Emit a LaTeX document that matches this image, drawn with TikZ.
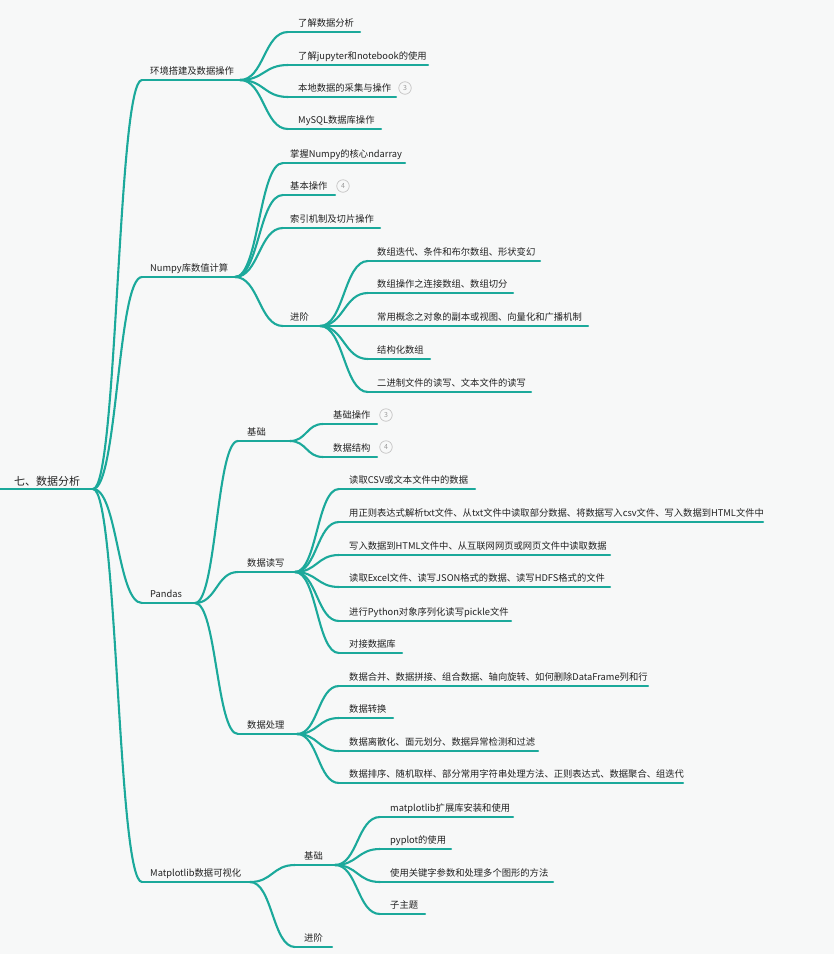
\documentclass[tikz,border=0pt]{standalone}
\usepackage{fontspec}
\setmainfont{Noto Sans CJK SC}
\usetikzlibrary{calc}
\definecolor{teal}{HTML}{1BA99B}
\definecolor{bg}{HTML}{F7F8F8}
\definecolor{txt}{HTML}{222222}
\definecolor{badgec}{HTML}{C4C4C4}
\definecolor{badget}{HTML}{9A9A9A}
\tikzset{
  branch/.style={draw=teal, line width=2.1pt, line cap=round},
  lbl/.style={inner sep=0pt, text=txt, font=\fontsize{9.3}{10}\selectfont},
  rootlbl/.style={inner sep=0pt, text=txt, font=\fontsize{11}{12}\selectfont},
  badge/.style={circle, draw=badgec, line width=0.7pt, minimum size=12.5pt, inner sep=0pt, text=badget, font=\fontsize{7}{8}\selectfont},
}
\newcommand{\topic}[6]{%
  \coordinate (#1-s) at (#3,#5);
  \coordinate (#1-e) at (#4,#5);
  \draw[branch] (#1-s) -- (#1-e);
  \node[lbl, anchor=base west] (#1) at (#2,#5-5.5) {#6};
}
\newcommand{\conn}[2]{%
  \draw[branch] let \p1=(#1-e), \p2=(#2-s) in
    (\p1) .. controls ({0.5*\x1+0.5*\x2},\y1) and ({0.5*\x1+0.5*\x2},\y2) .. (\p2);
}
\begin{document}
\begin{tikzpicture}[x=1pt,y=-1pt]
\fill[bg] (0,0) rectangle (834,954);
\useasboundingbox (0,0) rectangle (834,954);
% root
\coordinate (R-s) at (0,489);
\coordinate (R-e) at (93,489);
\draw[branch] (R-s) -- (R-e);
\node[rootlbl, anchor=base west] (R) at (14,485) {七、数据分析};
% level 1
\topic{A}{150}{142}{240}{80}{环境搭建及数据操作}
\topic{B}{150}{142}{235}{277}{Numpy库数值计算}
\topic{C}{150}{142}{195}{603}{Pandas}
\topic{D}{150}{142}{250}{882}{Matplotlib数据可视化}
\foreach \c in {A,B,C,D} {\conn{R}{\c}}
% A
\topic{A1}{298}{288}{360}{32}{了解数据分析}
\topic{A2}{298}{288}{428}{65}{了解jupyter和notebook的使用}
\topic{A3}{298}{288}{396}{97}{本地数据的采集与操作}
\topic{A4}{298}{288}{381}{129}{MySQL数据库操作}
\node[badge] (bA3) at (405,88) {3};
\foreach \c in {A1,A2,A3,A4} {\conn{A}{\c}}
% B
\topic{B1}{290}{283}{405}{163}{掌握Numpy的核心ndarray}
\topic{B2}{290}{283}{335}{195}{基本操作}
\topic{B3}{290}{283}{380}{228}{索引机制及切片操作}
\topic{B4}{290}{283}{320}{326}{进阶}
\node[badge] (bB2) at (343,186) {4};
\foreach \c in {B1,B2,B3,B4} {\conn{B}{\c}}
\topic{B41}{377}{368}{540}{261}{数组迭代、条件和布尔数组、形状变幻}
\topic{B42}{377}{368}{513}{293}{数组操作之连接数组、数组切分}
\topic{B43}{377}{368}{588}{326}{常用概念之对象的副本或视图、向量化和广播机制}
\topic{B44}{377}{368}{430}{359}{结构化数组}
\topic{B45}{377}{368}{531}{392}{二进制文件的读写、文本文件的读写}
\foreach \c in {B41,B42,B43,B44,B45} {\conn{B4}{\c}}
% C
\topic{C1}{247}{238}{290}{441}{基础}
\topic{C2}{247}{238}{295}{572}{数据读写}
\topic{C3}{247}{238}{297}{734}{数据处理}
\foreach \c in {C1,C2,C3} {\conn{C}{\c}}
\topic{C11}{333}{323}{377}{424}{基础操作}
\topic{C12}{333}{323}{377}{457}{数据结构}
\node[badge] (bC11) at (386,415) {3};
\node[badge] (bC12) at (386,447) {4};
\foreach \c in {C11,C12} {\conn{C1}{\c}}
\topic{C21}{349}{339}{475}{489}{读取CSV或文本文件中的数据}
\topic{C22}{349}{339}{763}{522}{用正则表达式解析txt文件、从txt文件中读取部分数据、将数据写入csv文件、写入数据到HTML文件中}
\topic{C23}{349}{339}{610}{555}{写入数据到HTML文件中、从互联网网页或网页文件中读取数据}
\topic{C24}{349}{339}{610}{587}{读取Excel文件、读写JSON格式的数据、读写HDFS格式的文件}
\topic{C25}{349}{339}{511}{621}{进行Python对象序列化读写pickle文件}
\topic{C26}{349}{339}{402}{653}{对接数据库}
\foreach \c in {C21,C22,C23,C24,C25,C26} {\conn{C2}{\c}}
\topic{C31}{349}{339}{648}{686}{数据合并、数据拼接、组合数据、轴向旋转、如何删除DataFrame列和行}
\topic{C32}{349}{339}{393}{718}{数据转换}
\topic{C33}{349}{339}{538}{751}{数据离散化、面元划分、数据异常检测和过滤}
\topic{C34}{349}{339}{683}{783}{数据排序、随机取样、部分常用字符串处理方法、正则表达式、数据聚合、组迭代}
\foreach \c in {C31,C32,C33,C34} {\conn{C3}{\c}}
% D
\topic{D1}{304}{295}{335}{865}{基础}
\topic{D2}{304}{295}{332}{947}{进阶}
\foreach \c in {D1,D2} {\conn{D}{\c}}
\topic{D11}{390}{380}{513}{817}{matplotlib扩展库安装和使用}
\topic{D12}{390}{380}{451}{849}{pyplot的使用}
\topic{D13}{390}{380}{553}{882}{使用关键字参数和处理多个图形的方法}
\topic{D14}{390}{380}{425}{914}{子主题}
\foreach \c in {D11,D12,D13,D14} {\conn{D1}{\c}}
\end{tikzpicture}
\end{document}
